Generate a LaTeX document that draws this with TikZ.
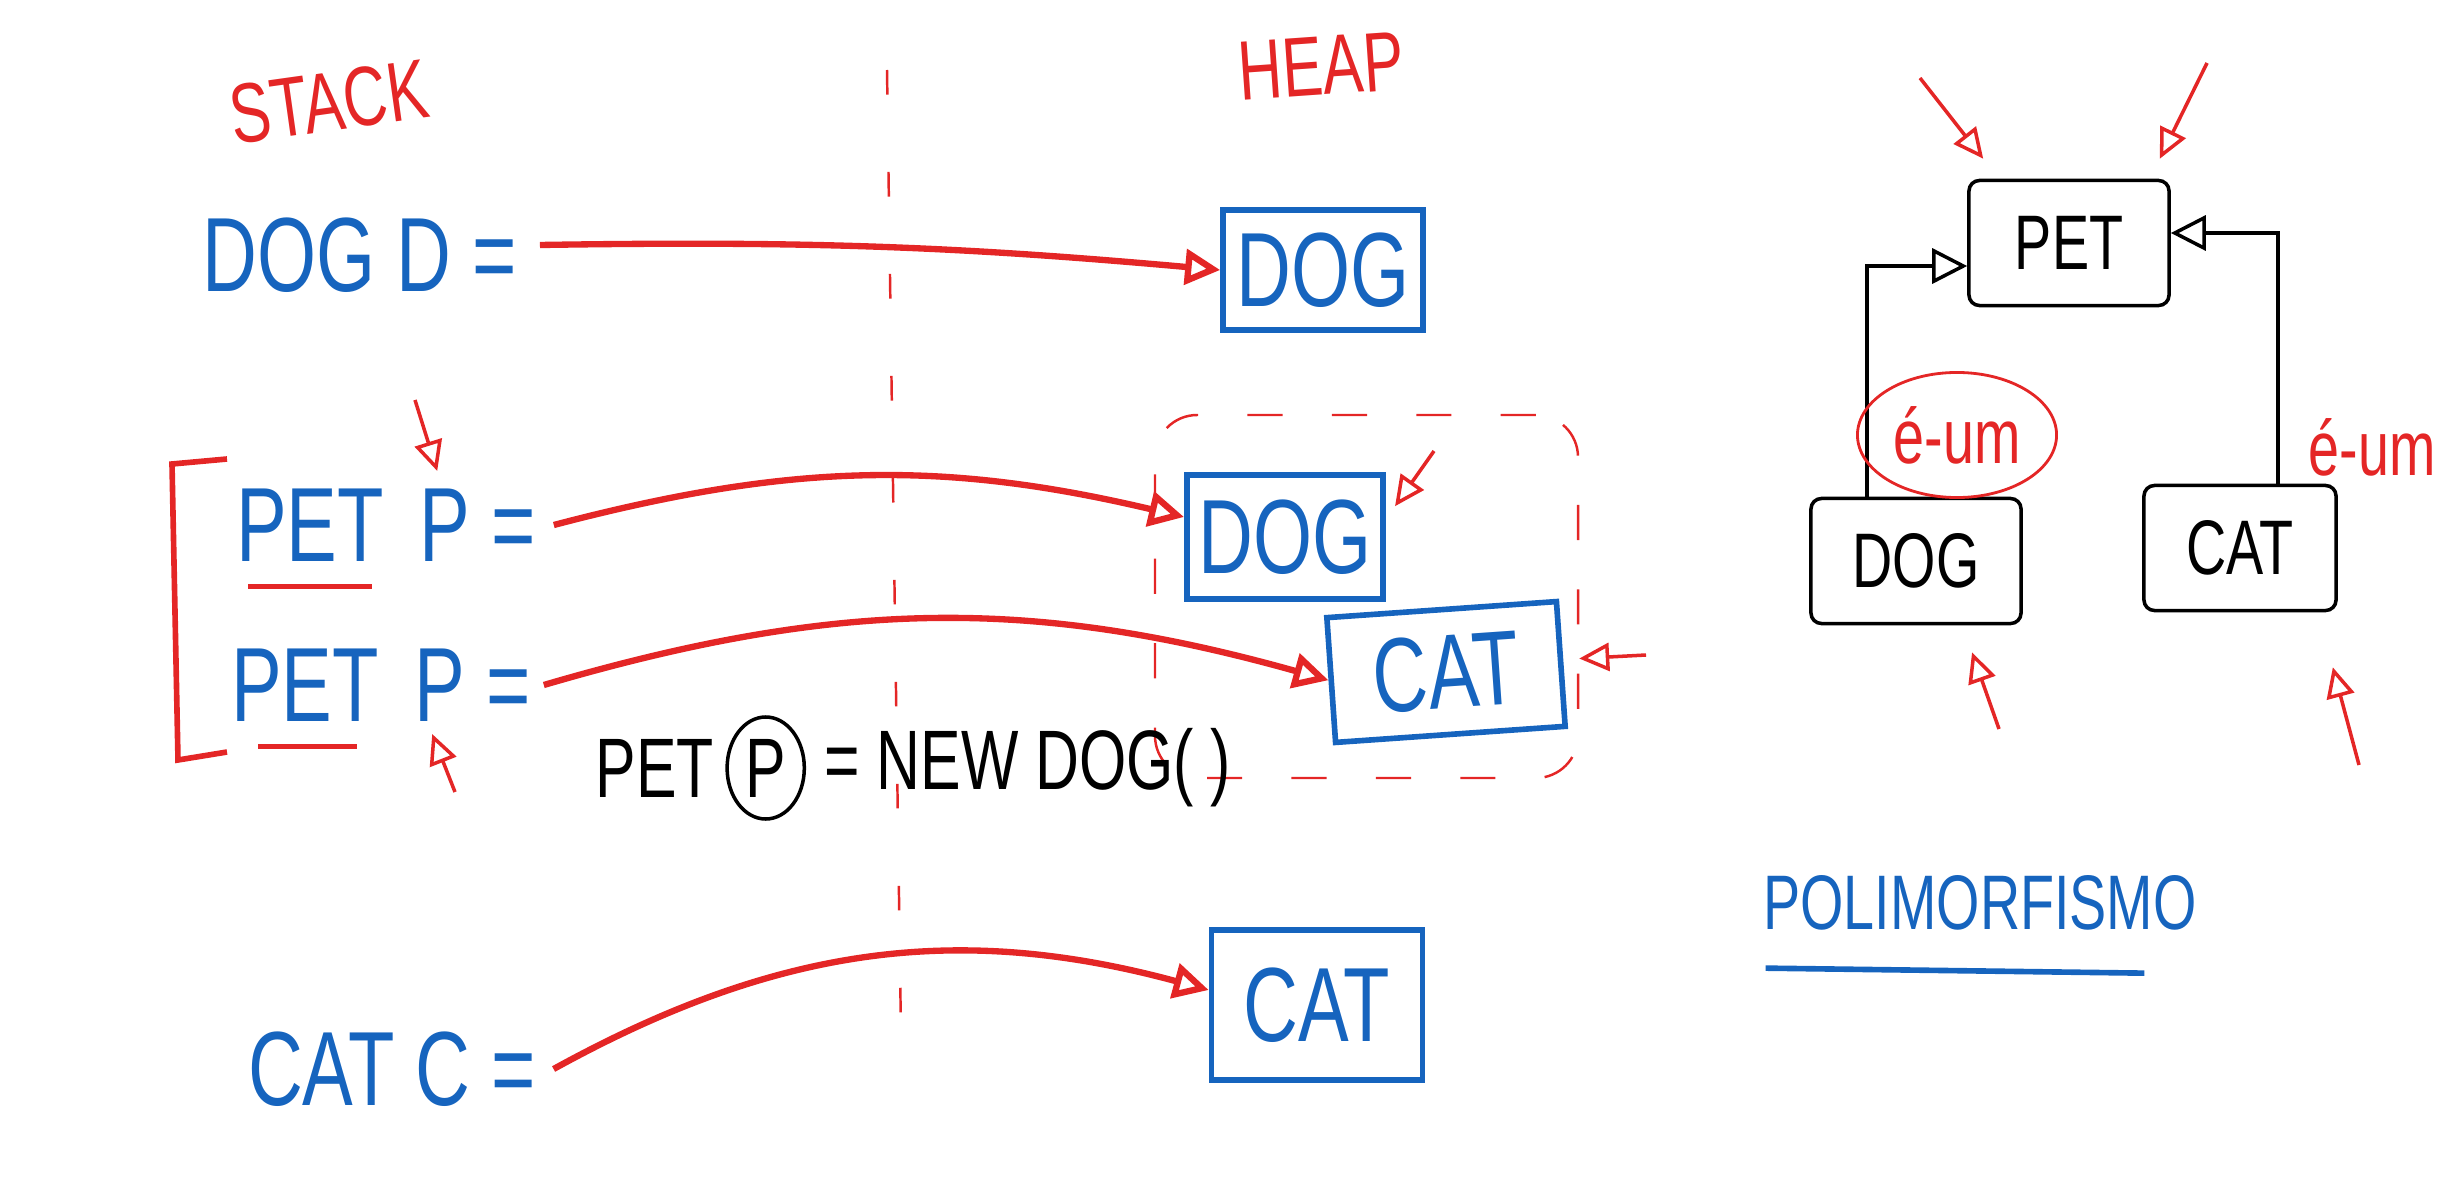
\documentclass[tikz,border=0pt]{standalone}
\usepackage{fontspec}
\setmainfont{Liberation Sans}[FakeStretch=0.72]
\usetikzlibrary{arrows.meta, positioning, shapes.geometric, fit}
\definecolor{penblue}{RGB}{22,100,190}
\definecolor{penred}{RGB}{228,38,38}
\tikzstyle{stk} = [text=penblue, font=\fontsize{30}{34}\selectfont, inner sep=2pt]
\tikzstyle{obj} = [draw=penblue, line width=1.6pt, text=penblue, font=\fontsize{30}{34}\selectfont, minimum width=2cm, minimum height=1.2cm]
\tikzstyle{cls} = [draw=black, line width=1pt, font=\fontsize{22}{26}\selectfont, minimum width=2cm, minimum height=1.25cm, rounded corners=3pt]
\tikzstyle{ref} = [draw=penred, line width=1.8pt, -{Triangle[open, length=0.35cm, width=0.35cm]}]
\tikzstyle{hint} = [draw=penred, line width=1pt, -{Triangle[open, length=0.3cm, width=0.28cm]}]
\tikzstyle{isa} = [draw=black, line width=1pt, -{Triangle[open, length=0.35cm, width=0.35cm]}]
\tikzstyle{note} = [text=penred, font=\fontsize{24}{28}\selectfont]
\tikzstyle{formula} = [font=\fontsize{24}{28}\selectfont, inner sep=1pt]
\tikzstyle{grp} = [draw=penred, dashed, dash pattern=on 10pt off 14pt, line width=0.7pt, rounded corners=12pt]

\begin{document}
\begin{tikzpicture}[x=0.01cm, y=-0.01cm]
	\useasboundingbox (0,0) rectangle (2458,1179);
	% stack / heap
	\node[note, rotate=8] (stack) at (329,102) {STACK};
	\node[note, rotate=4] (heap) at (1321,66) {HEAP};
	\draw[penred, line width=0.7pt, dash pattern=on 7pt off 22pt] (887,70) -- (901,1035);

	\node[stk] (dogD) at (360,255) {DOG D =};
	\node[obj] (heapA) at (1323,270) {DOG};
	\draw[ref] ([xshift=0.15cm,yshift=0.1cm]dogD.east) to[bend left=3] (heapA.west);

	\node[stk] (petA) at (310,525) {PET};
	\node[stk] (pA) at (478,525) {P =};
	\node[stk] (petB) at (305,685) {PET};
	\node[stk] (pB) at (473,685) {P =};
	\draw[penred, line width=1.5pt] ([xshift=0.2cm,yshift=-5pt]petA.south west) -- ([xshift=-0.2cm,yshift=-5pt]petA.south east);
	\draw[penred, line width=1.5pt] ([xshift=0.35cm,yshift=-5pt]petB.south west) -- ([xshift=-0.3cm,yshift=-5pt]petB.south east);
	\draw[penred, line width=1.6pt] (227,459) -- (172,464) -- (178,760) -- (227,752);

	\node[obj, minimum width=1.96cm, minimum height=1.24cm] (heapB) at (1285,537) {DOG};
	\node[obj, rotate=4, minimum width=2.3cm, minimum height=1.25cm] (heapC) at (1446,672) {CAT};
	\draw[ref] ([xshift=0.1cm]pA.east) to[bend left=14] ([yshift=0.2cm]heapB.west);
	\draw[ref] ([xshift=0.05cm]pB.east) to[bend left=16] (heapC.west);

	\coordinate (g1) at (1155,415);
	\coordinate (g2) at (1578,778);
	\node[grp, fit=(g1)(g2), inner sep=0pt] (grpH) {};

	\coordinate (dn) at (415,400);
	\coordinate (up) at (455,792);
	\coordinate (da) at (1434,451);
	\coordinate (ra) at (1646,655);
	\draw[hint] (dn) -- ([xshift=0.25cm,yshift=0.1cm]pA.north west);
	\draw[hint] (up) -- ([xshift=0.25cm,yshift=-0.05cm]pB.south west);
	\draw[hint] (da) -- ([xshift=0.09cm,yshift=-0.34cm]heapB.north east);
	\draw[hint] (ra) -- ([yshift=-0.62cm]grpH.east);

	% assignment
	\node[formula] (fPet) at (655,768) {PET};
	\node[formula, draw, ellipse, line width=1pt, inner sep=2pt, right=2pt of fPet] (fP) {P};
	\node[formula, right=4pt of fP] (fRest) {= NEW DOG(\ )};

	\node[stk] (catC) at (392,1069) {CAT C =};
	\node[obj, minimum width=2.11cm, minimum height=1.5cm] (heapD) at (1317,1005) {CAT};
	\draw[ref] ([xshift=0.1cm]catC.east) to[bend left=22] ([yshift=0.15cm]heapD.west);

	% class diagram
	\node[cls] (petR) at (2069,243) {PET};
	\node[cls, minimum width=2.1cm] (dogR) at (1916,561) {DOG};
	\node[cls, minimum width=1.92cm] (catR) at (2240,548) {CAT};
	\draw[isa] ([xshift=0.58cm]dogR.north west) |- ([yshift=-0.23cm]petR.west);
	\draw[isa] ([xshift=-0.6cm]catR.north east) |- ([yshift=0.1cm]petR.east);
	\node[note, font=\fontsize{22}{26}\selectfont, draw=penred, ellipse, line width=0.8pt, minimum width=1.99cm, minimum height=1.25cm, inner sep=0pt] (isaL) at (1957,435) {é-um};
	\node[note, font=\fontsize{22}{26}\selectfont] (isaR) at (2372,447) {é-um};

	\coordinate (tl) at (1920,78);
	\coordinate (tr) at (2207,63);
	\coordinate (bl) at (1999,729);
	\coordinate (br) at (2359,765);
	\draw[hint] (tl) -- ([xshift=0.16cm,yshift=0.2cm]petR.north west);
	\draw[hint] (tr) -- ([xshift=-0.11cm,yshift=0.2cm]petR.north east);
	\draw[hint] (bl) -- ([xshift=0.56cm,yshift=-0.27cm]dogR.south);
	\draw[hint] (br) -- ([xshift=-0.05cm,yshift=-0.55cm]catR.south east);

	\node[stk, font=\fontsize{22}{26}\selectfont] (poli) at (1980,903) {POLIMORFISMO};
	\draw[penblue, line width=1.6pt] ([xshift=0.1cm,yshift=-0.3cm]poli.south west) -- ([xshift=-0.6cm,yshift=-0.35cm]poli.south east);
\end{tikzpicture}
\end{document}
